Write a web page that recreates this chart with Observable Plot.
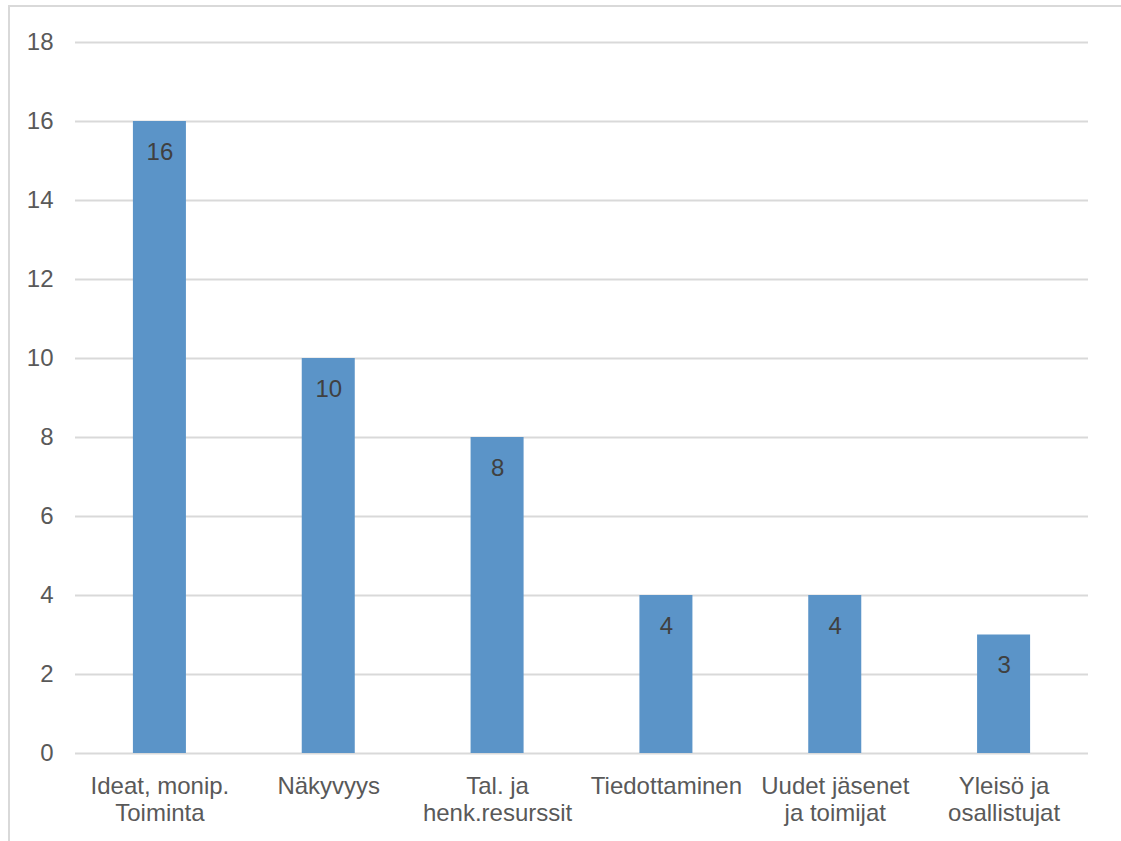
<!DOCTYPE html>
<html>
<head>
<meta charset="utf-8">
<script src="https://cdn.jsdelivr.net/npm/d3@7"></script>
<script src="https://cdn.jsdelivr.net/npm/@observablehq/plot@0.6"></script>
<style>
  html, body { margin: 0; padding: 0; background: #fff; overflow: hidden; }
  #wrap { position: relative; width: 1121px; height: 841px; }
  #edge { position: absolute; left: 8px; top: 5px; width: 1200px; height: 900px;
          border: 2px solid #d9d9d9; pointer-events: none; }
</style>
</head>
<body>
<div id="wrap"><div id="edge"></div></div>
<script>
// Categories (line breaks as printed under the axis) and their counts
const categories = [
  "Ideat, monip.\nToiminta",
  "Näkyvyys",
  "Tal. ja\nhenk.resurssit",
  "Tiedottaminen",
  "Uudet jäsenet\nja toimijat",
  "Yleisö ja\nosallistujat"
];
const values = [16, 10, 8, 4, 4, 3];
const yTicks = [0, 2, 4, 6, 8, 10, 12, 14, 16, 18];

const rows = categories.map((c, i) => ({category: c, value: values[i]}));

const font = "Liberation Sans, Arial, sans-serif";
const chart = Plot.plot({
  width: 1121,
  height: 841,
  marginLeft: 75,
  marginRight: 33,
  marginTop: 42,
  marginBottom: 88,
  style: {fontFamily: font, fontSize: "24px", background: "transparent"},
  x: {domain: categories, paddingInner: 0.686, paddingOuter: 0.343, round: false, label: null},
  y: {domain: [0, 18], label: null},
  marks: [
    Plot.gridY(yTicks, {stroke: "#d9d9d9", strokeOpacity: 1, strokeWidth: 2}),
    Plot.barY(rows, {x: "category", y: "value", fill: "#5b94c8"}),
    Plot.text(rows, {
      x: "category", y: "value", text: d => String(d.value),
      lineAnchor: "top", dy: 21, fill: "#404040", fontSize: 24
    }),
    Plot.axisY(yTicks, {
      tickSize: 0, tickPadding: 22, fill: "#595959", fontSize: 24, label: null
    }),
    Plot.axisX({
      tickSize: 0, tickPadding: 22, fill: "#595959", fontSize: 24,
      lineHeight: 1.11, label: null
    })
  ]
});
document.getElementById("wrap").prepend(chart);
</script>
</body>
</html>
